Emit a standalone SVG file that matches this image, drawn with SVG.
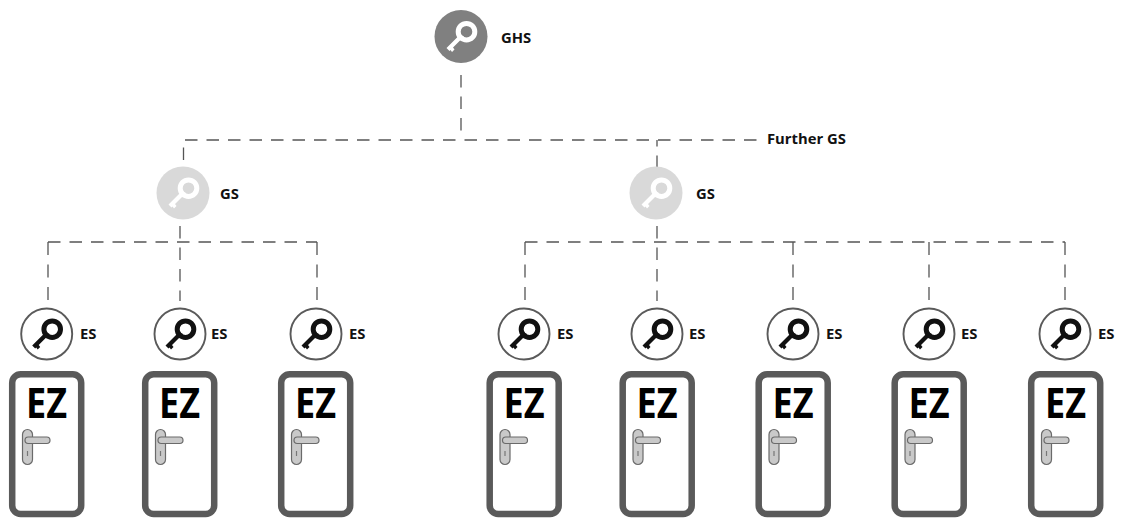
<svg xmlns="http://www.w3.org/2000/svg" xmlns:xlink="http://www.w3.org/1999/xlink" width="1121" height="518" viewBox="0 0 1121 518">
<style>
text{font-family:"Open Sans","Noto Sans","Liberation Sans",sans-serif;font-weight:700;fill:#111}
.lbl{font-size:14.8px}
.ez{font-size:41px;font-family:"Noto Sans","Open Sans",sans-serif;font-weight:700;fill:#000}
.dash{fill:none;stroke:#555;stroke-width:1.3;stroke-dasharray:12.5 9}
.drop{fill:none;stroke:#555;stroke-width:1.3;stroke-dasharray:13 9.5}
.door{fill:#fff;stroke:#5a5a5a;stroke-width:6.5}
.handle{fill:#c9c9c9;stroke:#6a6a6a;stroke-width:1.2}
.ring{fill:#fff;stroke:#5a5a5a;stroke-width:1.9}
</style>
<defs>
<g id="key">
<path d="M-1 -2 L-14.500 11.500 L-11.500 14.500 L-10.500 13.500 L-9 15.500 L-6.500 13 L-8 11 L3 0Z" fill="currentColor"/>
<circle cx="5.500" cy="-4.800" r="8.300" fill="none" stroke="currentColor" stroke-width="5"/>
</g>
<g id="doorShape">
<rect class="door" x="-34.300" y="374.200" width="69" height="139.800" rx="8.500"/>
<rect class="handle" x="-24" y="429.500" width="10" height="35" rx="5"/>
<rect class="handle" x="-21.500" y="437" width="25" height="6.500" rx="3.200"/>
<line x1="-19" y1="451" x2="-19" y2="456" stroke="#777" stroke-width="1.200"/>
</g>
<g id="esKey">
<circle class="ring" r="25.500"/>
<use href="#key" color="#111"/>
</g>
</defs>
<g id="connectors">
<path class="dash" d="M461 75V136"/>
<path class="dash" d="M183.500 160V140H760"/>
<path class="dash" d="M657 168V140"/>
<path class="dash" d="M180 226V301"/>
<path class="dash" d="M48 242H317"/>
<path class="dash" d="M657 226V301"/>
<path class="dash" d="M525 242H1065"/>
<path class="drop" d="M48 242V300"/>
<path class="drop" d="M317 242V300"/>
<path class="drop" d="M525 242V300"/>
<path class="drop" d="M793 242V300"/>
<path class="drop" d="M929 242V300"/>
<path class="drop" d="M1065 242V300"/>
</g>
<g id="ghs"><circle cx="461" cy="36.500" r="26.500" fill="#808080"/><use href="#key" color="#fff" transform="translate(461 36.500)"/><text class="lbl" x="501" y="43">GHS</text></g>
<g id="gs1"><circle cx="183" cy="193" r="26.500" fill="#d9d9d9"/><use href="#key" color="#fff" transform="translate(183 193)"/><text class="lbl" x="220" y="199">GS</text></g>
<g id="gs2"><circle cx="656" cy="193" r="26.500" fill="#d9d9d9"/><use href="#key" color="#fff" transform="translate(656 193)"/><text class="lbl" x="696" y="199">GS</text></g>
<g id="further"><text class="lbl" x="767" y="144">Further GS</text></g>
<g id="es1"><use href="#esKey" x="46.700" y="334"/><text class="lbl" x="80" y="339">ES</text></g>
<g id="es2"><use href="#esKey" x="180" y="334"/><text class="lbl" x="211" y="339">ES</text></g>
<g id="es3"><use href="#esKey" x="316" y="334"/><text class="lbl" x="349" y="339">ES</text></g>
<g id="es4"><use href="#esKey" x="524" y="334"/><text class="lbl" x="557" y="339">ES</text></g>
<g id="es5"><use href="#esKey" x="657" y="334"/><text class="lbl" x="689" y="339">ES</text></g>
<g id="es6"><use href="#esKey" x="793" y="334"/><text class="lbl" x="826" y="339">ES</text></g>
<g id="es7"><use href="#esKey" x="929" y="334"/><text class="lbl" x="961" y="339">ES</text></g>
<g id="es8"><use href="#esKey" x="1065" y="334"/><text class="lbl" x="1098" y="339">ES</text></g>
<g id="ez1"><use href="#doorShape" x="46.500"/><text class="ez" x="26" y="418" textLength="41" lengthAdjust="spacingAndGlyphs">EZ</text></g>
<g id="ez2"><use href="#doorShape" x="179.500"/><text class="ez" x="159" y="418" textLength="41" lengthAdjust="spacingAndGlyphs">EZ</text></g>
<g id="ez3"><use href="#doorShape" x="315.500"/><text class="ez" x="295" y="418" textLength="41" lengthAdjust="spacingAndGlyphs">EZ</text></g>
<g id="ez4"><use href="#doorShape" x="524"/><text class="ez" x="503.500" y="418" textLength="41" lengthAdjust="spacingAndGlyphs">EZ</text></g>
<g id="ez5"><use href="#doorShape" x="657"/><text class="ez" x="636.500" y="418" textLength="41" lengthAdjust="spacingAndGlyphs">EZ</text></g>
<g id="ez6"><use href="#doorShape" x="793"/><text class="ez" x="772.500" y="418" textLength="41" lengthAdjust="spacingAndGlyphs">EZ</text></g>
<g id="ez7"><use href="#doorShape" x="929"/><text class="ez" x="908.500" y="418" textLength="41" lengthAdjust="spacingAndGlyphs">EZ</text></g>
<g id="ez8"><use href="#doorShape" x="1065.500"/><text class="ez" x="1045" y="418" textLength="41" lengthAdjust="spacingAndGlyphs">EZ</text></g>
</svg>
